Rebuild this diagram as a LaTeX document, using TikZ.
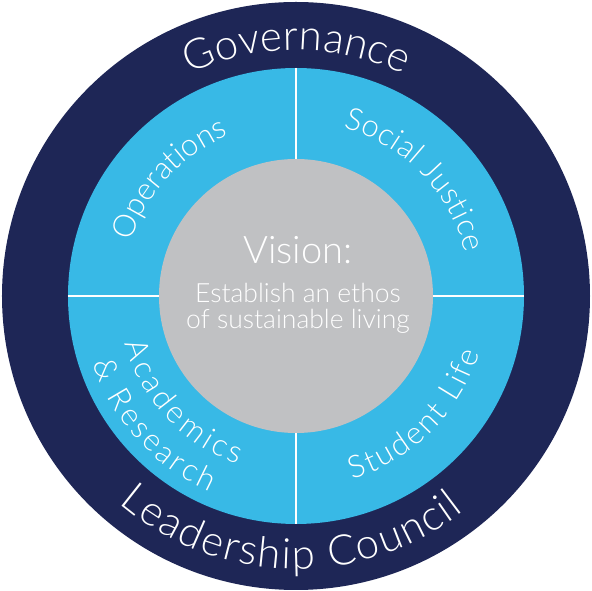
\documentclass[tikz,border=0pt]{standalone}
\usepackage{fontspec}
\IfFontExistsTF{Lato Light}{\setmainfont{Lato Light}}{\setmainfont{Lato}}
\usetikzlibrary{decorations.text}
\definecolor{navy}{HTML}{1E2656}
\definecolor{skyb}{HTML}{38B9E6}
\definecolor{greyc}{HTML}{C0C1C3}
\begin{document}
\begin{tikzpicture}[x=1pt,y=1pt,
  disc/.style={circle, draw=none, inner sep=0pt, outer sep=0pt},
  divider/.style={draw=white, line width=2.5pt},
  ringtext/.style={decorate, decoration={text along path, text align={fit to path}, text color=white, text={#1}}},
  centertext/.style={text=white, anchor=base, inner sep=0pt}
]
\useasboundingbox (-296,-295) rectangle (296,296);
\fill[white] (-296,-295) rectangle (296,296);
\node[disc, fill=navy, minimum size=588pt] (outer) at (0,0) {};
\node[disc, fill=skyb, minimum size=456pt] (ring) at (0,0) {};
\node[disc, fill=greyc, minimum size=274pt] (core) at (0,0) {};
\draw[divider] (ring.north) -- (core.north);
\draw[divider] (ring.south) -- (core.south);
\draw[divider] (ring.west) -- (core.west);
\draw[divider] (ring.east) -- (core.east);
% outer ring texts
\path[ringtext={|\fontsize{42}{46}\selectfont|Governance}] (115.6:246) arc[start angle=115.6, end angle=64, radius=246];
\path[ringtext={|\fontsize{42}{46}\selectfont|Leadership Council}] (229.5:273) arc[start angle=229.5, end angle=308, radius=273];
% quadrant texts
\path[ringtext={|\fontsize{31}{34}\selectfont|Operations}] (161.7:174) arc[start angle=161.7, end angle=112.9, radius=174];
\path[ringtext={|\fontsize{31}{34}\selectfont|Social Justice}] (74.3:175) arc[start angle=74.3, end angle=14.4, radius=175];
\path[ringtext={|\fontsize{31}{34}\selectfont|Academics}] (195.5:178) arc[start angle=195.5, end angle=251, radius=178];
\path[ringtext={|\fontsize{31}{34}\selectfont|{\&} Research}] (198.3:214) arc[start angle=198.3, end angle=246.2, radius=214];
\path[ringtext={|\fontsize{31}{34}\selectfont|Student Life}] (-72.9:192) arc[start angle=-72.9, end angle=-17.2, radius=192];
% center texts
\node[centertext, font=\fontsize{38}{42}\selectfont] (vision) at (2,32) {Vision:};
\node[centertext, font=\fontsize{26.5}{30}\selectfont] (ethos) at (2,-7) {Establish an ethos};
\node[centertext, font=\fontsize{26.5}{30}\selectfont] (living) at (2,-33) {of sustainable living};
\end{tikzpicture}
\end{document}
